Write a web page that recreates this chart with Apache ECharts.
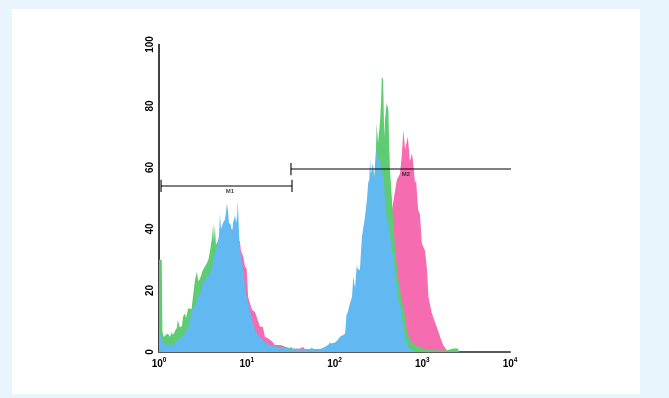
<!DOCTYPE html>
<html><head><meta charset="utf-8">
<script src="https://cdn.jsdelivr.net/npm/echarts@6/dist/echarts.min.js"></script>
<style>
html,body{margin:0;padding:0;background:#e8f5fd;}
#card{position:absolute;left:12px;top:9px;width:628px;height:385px;background:#fff;}
#c{position:absolute;left:0;top:0;width:669px;height:398px;}
</style>
</head><body><div id="card"></div><div id="c"></div>
<script>
// x: log-scale channel (0..1024 = 10^0..10^4), y: counts
const xTickExponents = ['0', '1', '2', '3', '4'];
const yTicks = [0, 20, 40, 60, 80, 100];

const pinkCh = [0,9,32,61,90,120,149,178,201,210,216,222,225,230,236,239,246,251,256,260,265,271,280,285,289,295,303,309,318,324,330,333,338,353,362,368,379,385,391,411,420,426,440,499,528,557,586,615,645,659,674,685,694,697,703,708,713,718,720,726,732,738,741,747,750,756,761,767,772,776,782,785,786,791,796,801,806,811,814,820,829,840,843];
const pinkCount = [5,3,2,3,7,15,25,35,40,40,39.7,38,37,36,36,33,31,27.7,27,18,18,13.7,13,11.5,10,8.2,8.2,5,4.5,3.9,3.5,2.9,2.3,2.3,2,1.7,1.2,1.6,1,1.1,1.6,1,0.8,0.8,2,5,10,18,28,35,42,50,56,56,58,63.5,72.2,65.7,67,70,62,64.6,62,55,56,46.2,45,35.3,34,33,26.7,27,18,18,12.6,12,9.4,9,7,5,2.3,0.6,0];

const greenCh = [0,8,10,14,18,20,26,32,37,41,47,52,55,61,67,70,76,79,85,90,95,99,105,110,115,120,125,128,134,140,144,149,155,158,160,163,166,172,178,192,207,222,236,251,265,280,295,309,324,338,353,368,382,411,440,470,487,496,499,502,513,528,543,557,572,586,601,615,627,633,635,639,645,648,650,654,657,659,664,669,671,674,679,684,689,697,708,718,723,732,744,756,776,805,826,834,849,858,872,875];
const greenCount = [30,30,6.6,5,4.4,5.5,6,5,6.5,5.5,6.9,8,10.4,8,8.5,11.5,12.6,11,14.2,14.7,14,18,23.4,26,23,24,24.5,26.7,27.7,29,30,33,37.5,41.8,36,41.3,35,36,38,40,38,35,28,18,11,6,3.5,2.3,2,1.7,1.7,1.6,1.2,1,0.9,1,1.5,2.5,3.2,2.5,3,4,5,10,15,22,35,48,55,66,74.4,68,75.4,82,89.5,88.5,70,75,81,79,70,59,50.5,41.8,33,24.5,17,11.5,7,3.9,2.5,1.7,1,0.6,0.5,0.5,0.8,1.1,1.1,0];

const blueCh = [0,3,6,12,18,26,32,38,47,55,61,67,76,82,88,93,96,105,114,123,128,134,143,149,155,160,166,172,175,178,181,187,192,195,198,201,204,210,213,216,222,225,228,230,233,236,242,245,251,256,260,265,274,283,295,303,312,324,338,353,362,382,411,426,440,446,452,470,481,490,499,513,522,528,537,543,547,551,557,563,567,570,572,577,580,586,592,595,601,604,607,611,613,616,618,621,624,628,631,634,638,645,651,655,659,664,669,674,679,684,689,694,697,703,708,712,718,723,727,732,741,750];
const blueCount = [7.5,7,5,3,2.5,2.2,2.6,2,3,3.9,4.5,5,6,7.2,9,12,13.7,15,18,20,22.5,23.4,25,25.5,28,31,33,36,38,45,40,42,43,45,48.4,46,42,41.3,38,42,44.5,42,44,49.4,40,33,30,26.7,22,18,16,13.7,9.4,6.5,5,3.9,3,2.3,1.8,1.5,1.4,1,1,0.9,1,1.4,0.9,0.9,1.5,2,2.8,3,4,5,5.5,6,12,13,15.8,18,24.5,22,21,28.3,27,26.7,37.5,37,44,44,50,56,55,63,58,58,61.4,57,58,65.7,63,62,58,57,50.5,44,41.8,38.6,33,32,24.5,22,17,16,11.5,12,5,3,1.7,1,0.5,0];

// marker gates: [start channel, end channel, level]
const gateNames = ['M1', 'M2'];
const gateStart = [6, 385];
const gateEnd = [388, 1027];
const gateLevel = [54, 59.5];
const gateLabelCh = [207, 720];

const zip = (a, b) => a.map((v, i) => [v, b[i]]);

const chart = echarts.init(document.getElementById('c'));
const areaSeries = (name, ch, cnt, color) => ({
  name, type: 'line', data: zip(ch, cnt), symbol: 'none', smooth: false,
  lineStyle: { width: 0 }, areaStyle: { color, opacity: 1 }, itemStyle: { color },
  silent: true
});
const gateSeries = (i) => {
  const s = gateStart[i], e = gateEnd[i], l = gateLevel[i], h = 2;
  const pts = [[s, l - h], [s, l + h], [s, l], [e, l]];
  if (i === 0) pts.push([e, l + h], [e, l - h]);
  return { type: 'line', data: pts, symbol: 'none', lineStyle: { color: '#000', width: 1.1 }, z: 5, silent: true };
};

chart.setOption({
  backgroundColor: 'transparent',
  animation: false,
  grid: { left: 159, right: 159, top: 44.5, bottom: 46 },
  xAxis: {
    type: 'value', min: 0, max: 1024, interval: 256,
    axisLine: { lineStyle: { color: '#5a5a5a', width: 2 } },
    axisTick: { show: false }, splitLine: { show: false },
    axisLabel: {
      margin: 5,
      formatter: (v) => '{b|10}{s|' + xTickExponents[Math.round(v / 256)] + '}',
      rich: {
        b: { fontSize: 10, fontWeight: 'bold', color: '#000', fontFamily: 'Liberation Sans', verticalAlign: 'bottom' },
        s: { fontSize: 6.5, fontWeight: 'bold', color: '#000', fontFamily: 'Liberation Sans', verticalAlign: 'top', padding: [0, 0, 5, 0] }
      }
    }
  },
  yAxis: {
    type: 'value', min: 0, max: 100, interval: 20,
    axisLine: { show: true, lineStyle: { color: '#000', width: 1.5 } },
    axisTick: { show: false }, splitLine: { show: false },
    axisLabel: {
      rotate: 90, margin: 4, color: '#000', fontWeight: 'bold', fontSize: 10, fontFamily: 'Liberation Sans',
      formatter: (v) => yTicks.includes(v) ? String(v) : ''
    }
  },
  series: [
    areaSeries('pink', pinkCh, pinkCount, '#f66cb1'),
    areaSeries('green', greenCh, greenCount, '#5ecc72'),
    areaSeries('blue', blueCh, blueCount, '#62b9f1'),
    gateSeries(0), gateSeries(1),
    {
      type: 'scatter', symbolSize: 0, z: 6, silent: true,
      data: gateNames.map((n, i) => ({ name: n, value: [gateLabelCh[i], gateLevel[i]] })),
      label: { show: true, position: 'bottom', distance: 2, formatter: '{b}', fontSize: 6, fontWeight: 'bold', color: '#111', fontFamily: 'Liberation Sans' }
    }
  ]
});
</script>
</body></html>
